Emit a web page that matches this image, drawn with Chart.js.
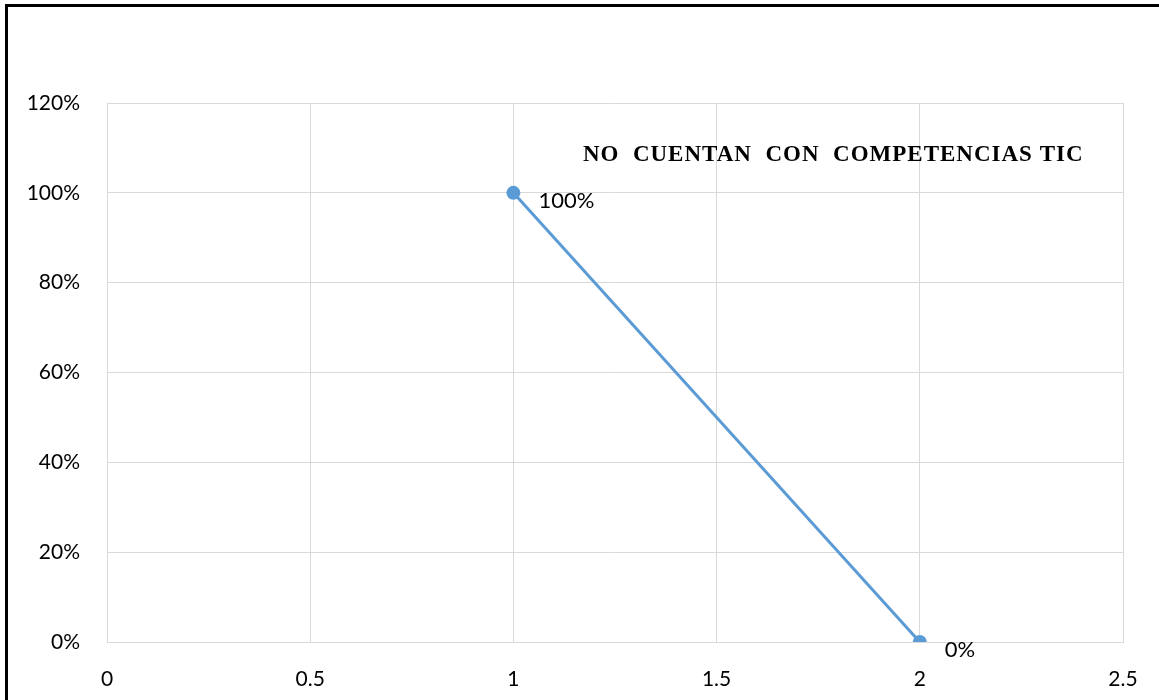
<!DOCTYPE html>
<html>
<head>
<meta charset="utf-8">
<script src="https://cdn.jsdelivr.net/npm/chart.js@4.4.1/dist/chart.umd.min.js"></script>
<style>
html,body{margin:0;padding:0;background:#fff;}
#wrap{width:1159px;height:700px;position:relative;}
</style>
</head>
<body>
<div id="wrap"><canvas id="c" width="1159" height="700"></canvas></div>
<script>
const xValues = [1, 2];
const yValues = [100, 0];
const dataLabels = ['100%', '0%'];
const annotationText = 'NO  CUENTAN  CON  COMPETENCIAS TIC';
const xTicks = [0, 0.5, 1, 1.5, 2, 2.5];
const yTicks = [0, 20, 40, 60, 80, 100, 120];

const points = xValues.map((x, i) => ({x: x, y: yValues[i]}));

const framePlugin = {
  id: 'frame',
  beforeDraw(chart) {
    const ctx = chart.ctx;
    ctx.save();
    ctx.fillStyle = '#fff';
    ctx.fillRect(0, 0, chart.width, chart.height);
    ctx.fillStyle = '#000';
    ctx.fillRect(5, 4, chart.width - 5, 3);
    ctx.fillRect(5, 4, 3, chart.height - 4);
    ctx.restore();
  }
};

const annotPlugin = {
  id: 'annot',
  afterDatasetsDraw(chart) {
    const ctx = chart.ctx;
    const xs = chart.scales.x, ys = chart.scales.y;
    ctx.save();
    ctx.font = 'bold 23px "Liberation Serif", "Times New Roman", serif';
    try { ctx.letterSpacing = '1px'; } catch (e) {}
    ctx.fillStyle = '#000';
    ctx.textAlign = 'left';
    ctx.textBaseline = 'middle';
    ctx.fillText(annotationText, xs.getPixelForValue(1.171), ys.getPixelForValue(108.4));
    try { ctx.letterSpacing = '0px'; } catch (e) {}
    const meta = chart.getDatasetMeta(0);
    ctx.font = '22px Lato, "Open Sans", sans-serif';
    ctx.fillStyle = '#000';
    ctx.textAlign = 'left';
    meta.data.forEach((el, i) => {
      ctx.fillText(dataLabels[i], el.x + 25, el.y + 8);
    });
    ctx.restore();
  }
};

new Chart(document.getElementById('c'), {
  type: 'scatter',
  data: {
    datasets: [{
      data: points,
      showLine: true,
      borderColor: '#5b9bd5',
      backgroundColor: '#5b9bd5',
      borderWidth: 3,
      pointRadius: 7,
      pointHoverRadius: 7,
      pointBorderWidth: 0
    }]
  },
  options: {
    responsive: false,
    animation: false,
    events: [],
    layout: { padding: { top: 103, right: 36, left: 0, bottom: 0 } },
    plugins: { legend: { display: false }, tooltip: { enabled: false } },
    scales: {
      x: {
        type: 'linear',
        min: 0, max: 2.5,
        afterBuildTicks(scale) { scale.ticks = xTicks.map(v => ({value: v})); },
        afterFit(scale) { scale.height = 58; scale.paddingLeft = 0; scale.paddingRight = 0; },
        grid: { color: '#d9d9d9', lineWidth: 1, drawTicks: false },
        border: { color: '#d9d9d9' },
        ticks: {
          padding: 25,
          color: '#000',
          font: { family: 'Lato, "Open Sans", sans-serif', size: 21 },
          callback: v => String(v)
        }
      },
      y: {
        type: 'linear',
        min: 0, max: 120,
        afterBuildTicks(scale) { scale.ticks = yTicks.map(v => ({value: v})); },
        afterFit(scale) { scale.width = 107; scale.paddingTop = 0; scale.paddingBottom = 0; },
        grid: { color: '#d9d9d9', lineWidth: 1, drawTicks: false },
        border: { color: '#d9d9d9' },
        ticks: {
          padding: 27,
          color: '#000',
          font: { family: 'Lato, "Open Sans", sans-serif', size: 21 },
          callback: v => v + '%'
        }
      }
    }
  },
  plugins: [framePlugin, annotPlugin]
});
</script>
</body>
</html>
